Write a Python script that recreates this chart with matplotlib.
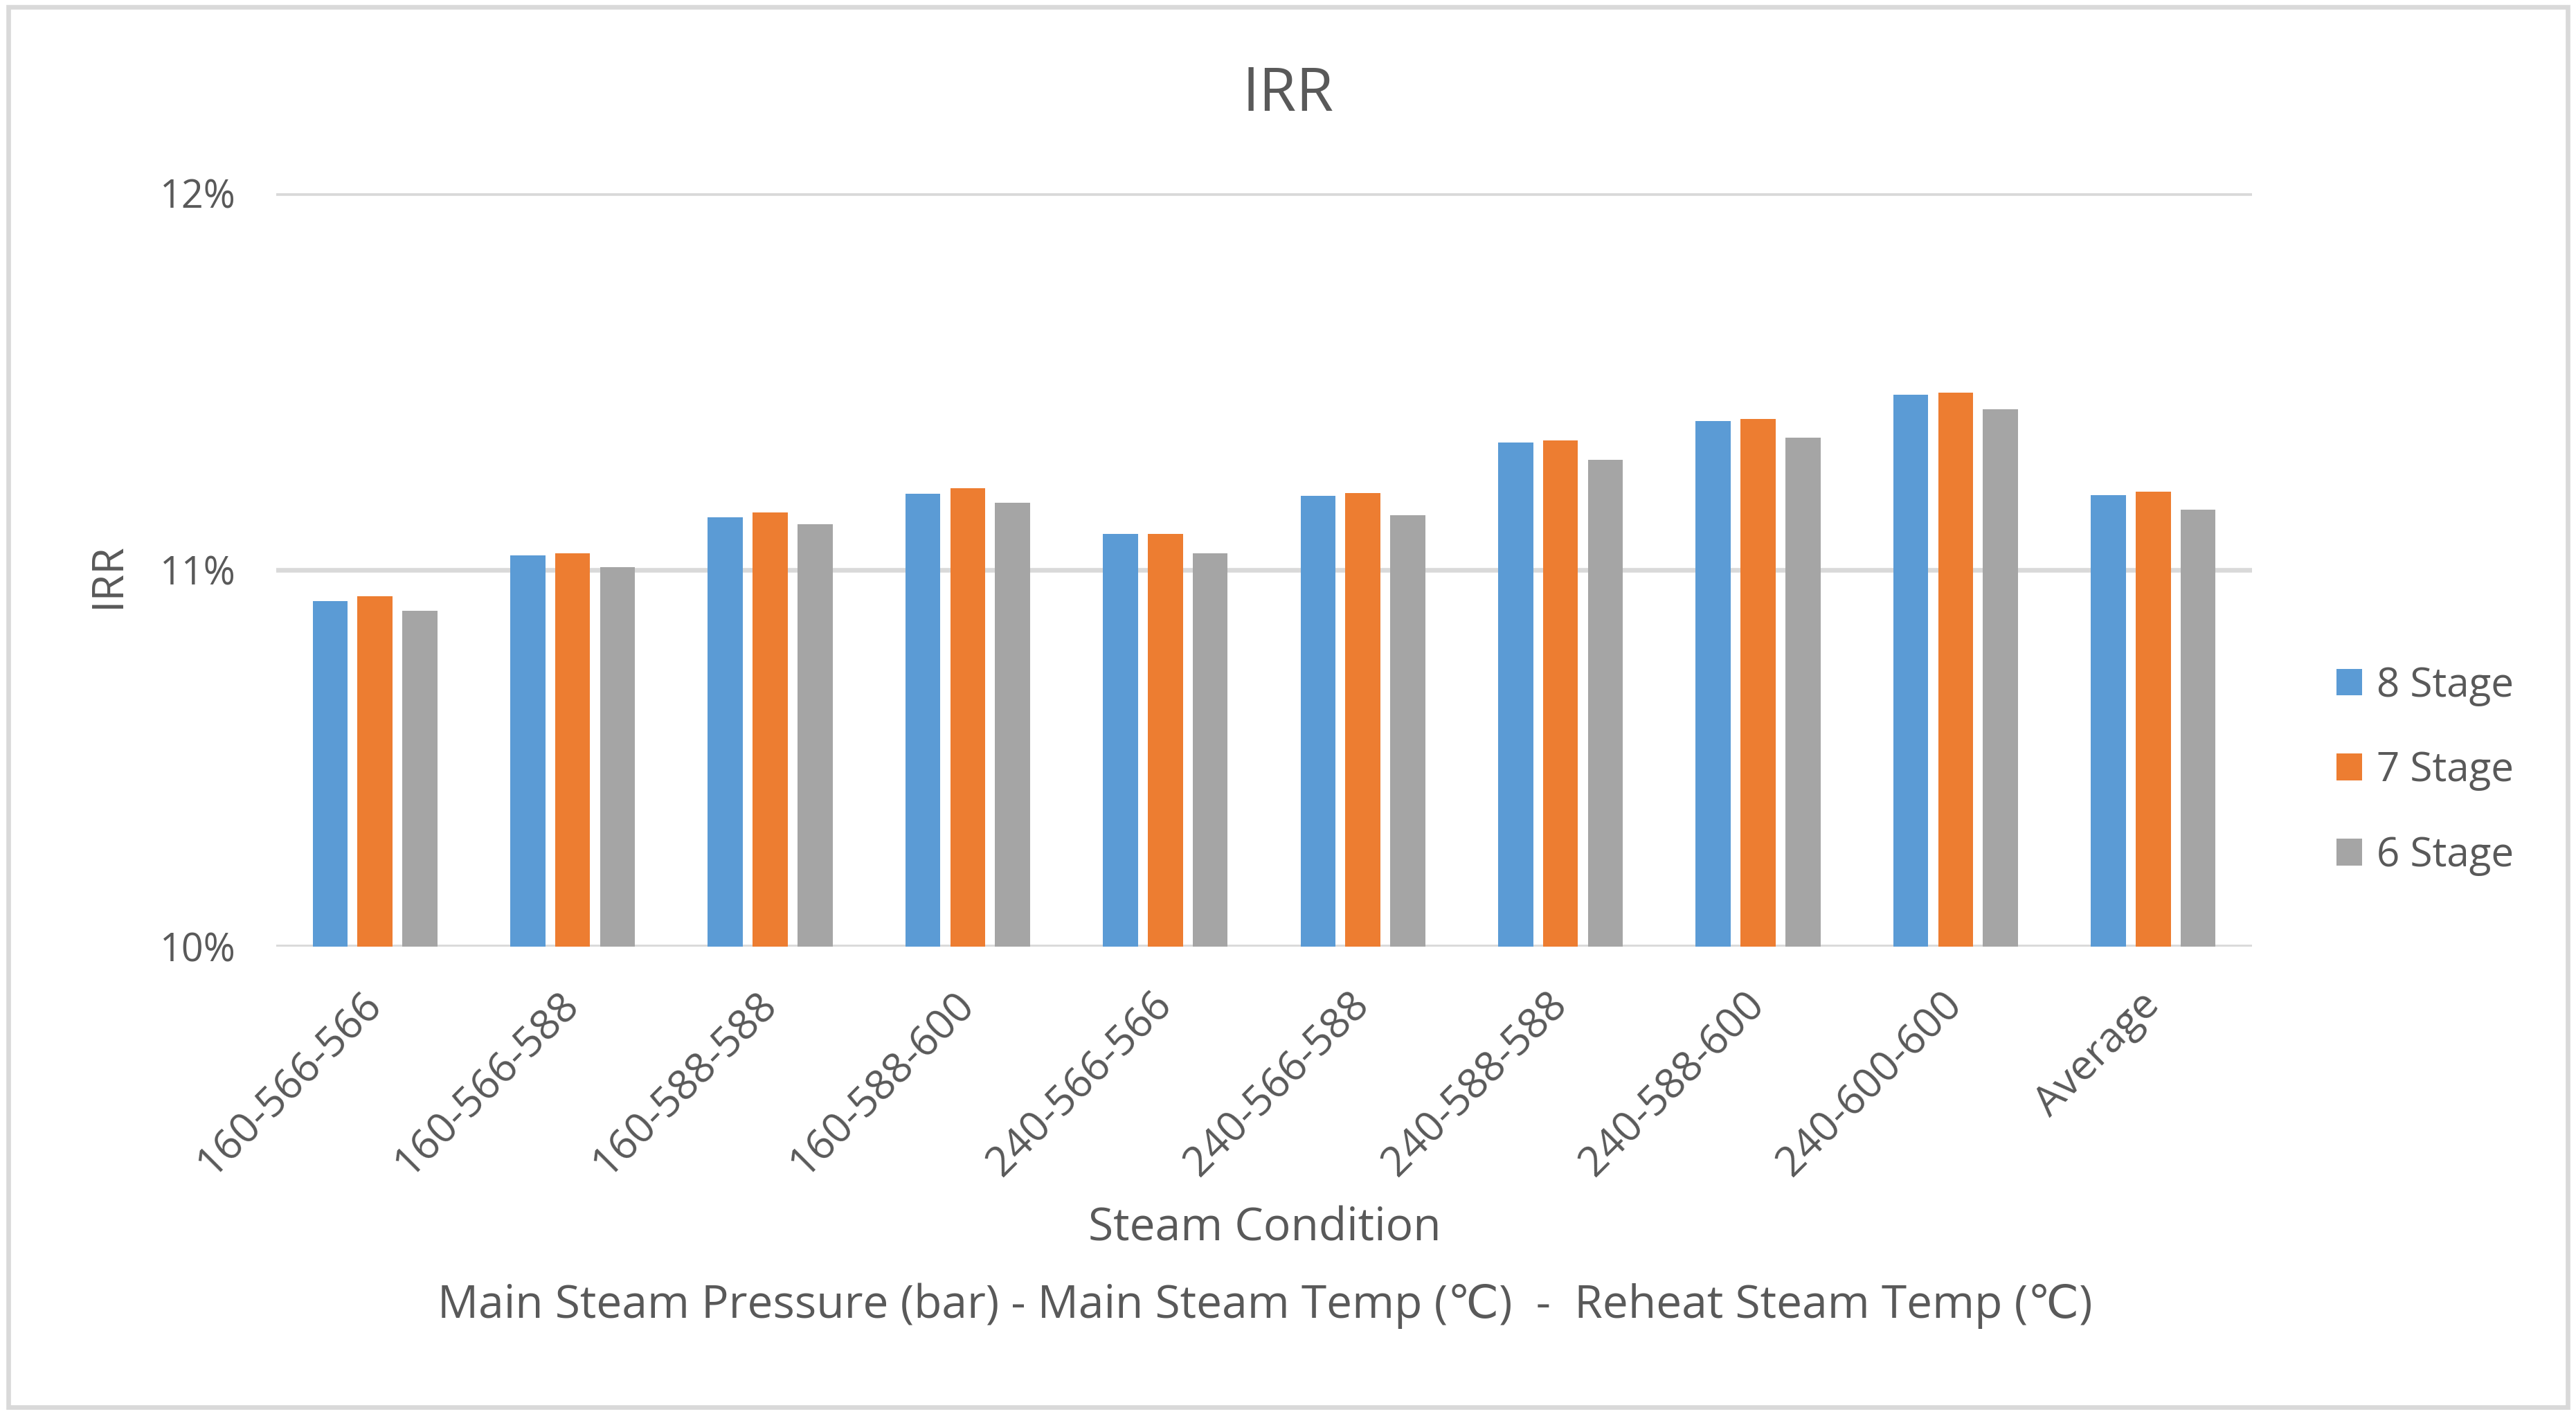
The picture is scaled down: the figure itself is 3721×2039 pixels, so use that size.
import matplotlib
matplotlib.use("Agg")
import matplotlib.pyplot as plt
from matplotlib.ticker import FuncFormatter
from matplotlib.patches import Rectangle
import numpy as np

categories = ["160-566-566", "160-566-588", "160-588-588", "160-588-600", "240-566-566",
              "240-566-588", "240-588-588", "240-588-600", "240-600-600", "Average"]
stage8 = [10.917, 11.038, 11.140, 11.203, 11.095, 11.197, 11.338, 11.395, 11.465, 11.199]
stage7 = [10.930, 11.045, 11.153, 11.216, 11.095, 11.204, 11.344, 11.401, 11.471, 11.207]
stage6 = [10.892, 11.007, 11.121, 11.178, 11.045, 11.146, 11.293, 11.351, 11.426, 11.160]
series_names = ["8 Stage", "7 Stage", "6 Stage"]
colors = ["#5B9BD5", "#ED7D31", "#A5A5A5"]
yticks = [10, 11, 12]

TXT = "#595959"
FAM = ["Open Sans", "DejaVu Sans"]
plt.rcParams['font.family'] = FAM

fig = plt.figure(figsize=(3721/300, 2039/300), dpi=300)
ax = fig.add_axes([399/3721, 1 - 1367/2039, (3253-399)/3721, (1367-279)/2039])

x = np.arange(len(categories))
bw = 0.177
step = 0.227
for i, (vals, name, c) in enumerate(zip([stage8, stage7, stage6], series_names, colors)):
    vals = np.array(vals)
    ax.bar(x + (i - 1) * step, vals - 10, bottom=10, width=bw, color=c, label=name, zorder=3)

ax.set_xlim(-0.5, len(categories) - 0.5)
ax.set_ylim(10, 12)
ax.set_yticks(yticks)
ax.yaxis.set_major_formatter(FuncFormatter(lambda v, p: f"{v:.0f}%"))
ax.grid(axis='y', color="#D9D9D9", linewidth=1.6, zorder=0)
for s in ax.spines.values():
    s.set_visible(False)
ax.tick_params(axis='both', length=0, colors=TXT, labelsize=13.4)
ax.tick_params(axis='y', pad=14)
ax.set_xticks(x)
ax.set_xticklabels(categories, rotation=45, ha='right', va='center', rotation_mode='anchor',
                   fontsize=14.5)
ax.tick_params(axis='x', pad=18)

fig.text(0.5, 1 - 137/2039, "IRR", ha='center', va='center', fontsize=21, color=TXT)
fig.text(157/3721, 1 - 831/2039, "IRR", ha='center', va='center', rotation=90, fontsize=15, color=TXT)
fig.text(1827/3721, 1 - 1775/2039, "Steam Condition", ha='center', va='center', fontsize=15.8, color=TXT)
fig.text(1827/3721, 1 - 1886/2039,
         "Main Steam Pressure (bar) - Main Steam Temp (\u2103)  -  Reheat Steam Temp (\u2103)",
         ha='center', va='center', fontsize=15.8, color=TXT)

leg = fig.legend(loc='center left', bbox_to_anchor=(3375/3721, 1 - 1113/2039), frameon=False,
                 fontsize=14, handlelength=0.64, handleheight=0.64, handletextpad=0.36,
                 labelspacing=1.1, borderpad=0, borderaxespad=0)
for t in leg.get_texts():
    t.set_color(TXT)

fig.patches.append(Rectangle((12/3721, 1 - 2032/2039), (3709-12)/3721, (2032-10)/2039,
                             transform=fig.transFigure, fill=False, edgecolor="#D9D9D9",
                             linewidth=1.6))

fig.savefig("out.png", dpi=300, facecolor="white")
